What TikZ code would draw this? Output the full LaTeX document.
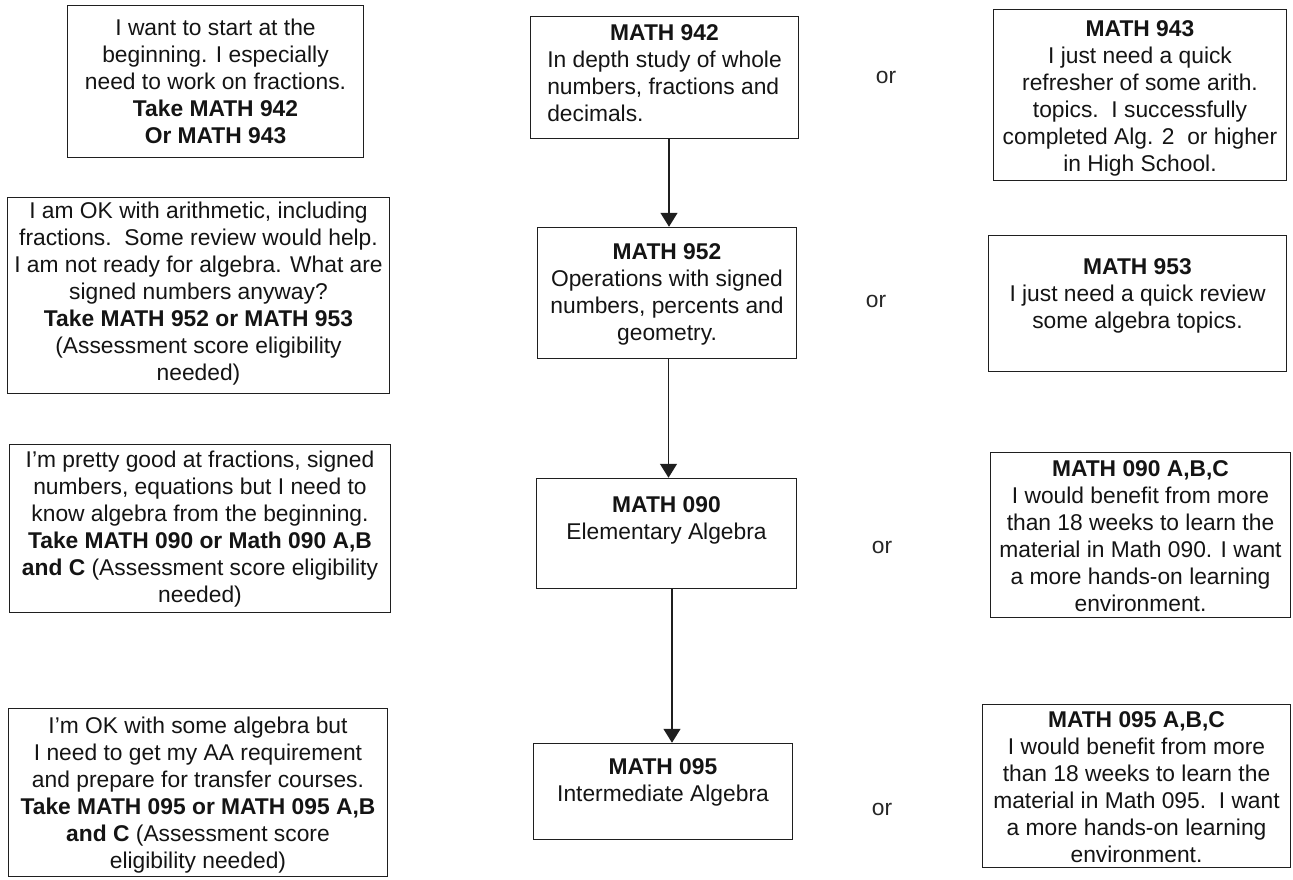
\documentclass[tikz,border=0pt]{standalone}
\usepackage{fontspec}
\setmainfont{Liberation Sans}
\usetikzlibrary{arrows.meta}
\newcommand{\fsz}{\fontsize{22.8}{27}\selectfont}
\begin{document}
\begin{tikzpicture}[x=1pt,y=-1pt,
  box/.style={draw=black!88, line width=1.5pt, inner sep=0pt, rectangle},
  txt/.style={align=center, font=\fsz, text=black!92, inner sep=0pt},
  ortxt/.style={font=\fsz, text=black!85, inner sep=0pt},
  arr/.style={draw=black!88, line width=1.5pt, -{Triangle[width=17pt,length=14pt]}}]
\useasboundingbox (0,0) rectangle (1293,880);

% boxes (center, size)
\node[box, minimum width=296pt, minimum height=152pt] (l1) at (215.5,81.5) {};
\node[box, minimum width=382pt, minimum height=196pt] (l2) at (198.5,295.5) {};
\node[box, minimum width=381pt, minimum height=168pt] (l3) at (200,528.5) {};
\node[box, minimum width=379pt, minimum height=168pt] (l4) at (198,792.5) {};

\node[box, minimum width=268pt, minimum height=122pt] (c1) at (664.5,77.5) {};
\node[box, minimum width=259pt, minimum height=131pt] (c2) at (667,293) {};
\node[box, minimum width=260pt, minimum height=110pt] (c3) at (666.5,533.5) {};
\node[box, minimum width=259pt, minimum height=96pt] (c4) at (663,791.5) {};

\node[box, minimum width=293pt, minimum height=171pt] (r1) at (1140,95) {};
\node[box, minimum width=298pt, minimum height=136pt] (r2) at (1137.5,303.5) {};
\node[box, minimum width=300pt, minimum height=165pt] (r3) at (1140.5,535) {};
\node[box, minimum width=308pt, minimum height=163pt] (r4) at (1136.5,786) {};

% texts
\node[txt] (l1t) at (l1.center) {I want to start at the\\beginning. I especially\\need to work on fractions.\\\textbf{Take MATH 942}\\\textbf{Or MATH 943}};
\node[txt] (l2t) at ([yshift=2pt]l2.center) {I am OK with arithmetic, including\\fractions.\ \ Some review would help.\\I am not ready for algebra. What are\\signed numbers anyway?\\\textbf{Take MATH 952 or MATH 953}\\(Assessment score eligibility\\needed)};
\node[txt] (l3t) at ([yshift=-1pt]l3.center) {I’m pretty good at fractions, signed\\numbers, equations but I need to\\know algebra from the beginning.\\\textbf{Take MATH 090 or Math 090 A,B}\\\textbf{and C} (Assessment score eligibility\\needed)};
\node[txt] (l4t) at ([yshift=-3pt]l4.center) {I’m OK with some algebra but\\I need to get my AA requirement\\and prepare for transfer courses.\\\textbf{Take MATH 095 or MATH 095 A,B}\\\textbf{and C} (Assessment score\\eligibility needed)};

\node[txt] (c1t) at ([xshift=0pt,yshift=2pt]c1.center) {\begin{tabular}{@{}l@{}}\multicolumn{1}{@{}c@{}}{\textbf{MATH 942}}\\In depth study of whole\\numbers, fractions and\\decimals.\end{tabular}};
\node[txt] (c2t) at ([yshift=-1pt]c2.center) {\textbf{MATH 952}\\Operations with signed\\numbers, percents and\\geometry.};
\node[txt] (c3t) at ([yshift=13.5pt]c3.center) {\textbf{MATH 090}\\Elementary Algebra};
\node[txt] (c4t) at ([yshift=9.5pt]c4.center) {\textbf{MATH 095}\\Intermediate Algebra};

\node[txt] (r1t) at ([yshift=-3pt]r1.center) {\textbf{MATH 943}\\I just need a quick\\refresher of some arith.\\topics.\ \ I successfully\\completed Alg. 2\ \ or higher\\in High School.};
\node[txt] (r2t) at ([yshift=8pt]r2.center) {\textbf{MATH 953}\\I just need a quick review\\some algebra topics.};
\node[txt] (r3t) at ([yshift=-1pt]r3.center) {\textbf{MATH 090 A,B,C}\\I would benefit from more\\than 18 weeks to learn the\\material in Math 090. I want\\a more hands-on learning\\environment.};
\node[txt] (r4t) at ([yshift=-1pt]r4.center) {\textbf{MATH 095 A,B,C}\\I would benefit from more\\than 18 weeks to learn the\\material in Math 095.\ \ I want\\a more hands-on learning\\environment.};

% "or" labels
\node[ortxt] (or1) at (886,77.5) {or};
\node[ortxt] (or2) at (876,301.5) {or};
\node[ortxt] (or3) at (882,547.5) {or};
\node[ortxt] (or4) at (882,809.5) {or};

% arrows
\draw[arr] ([xshift=4.5pt]c1.south) -- ([xshift=4.5pt]c1.south |- c2.north);
\draw[arr] ([xshift=1.5pt]c2.south) -- ([xshift=1.5pt]c2.south |- c3.north);
\draw[arr] ([xshift=5.5pt]c3.south) -- ([xshift=5.5pt]c3.south |- c4.north);
\end{tikzpicture}
\end{document}
